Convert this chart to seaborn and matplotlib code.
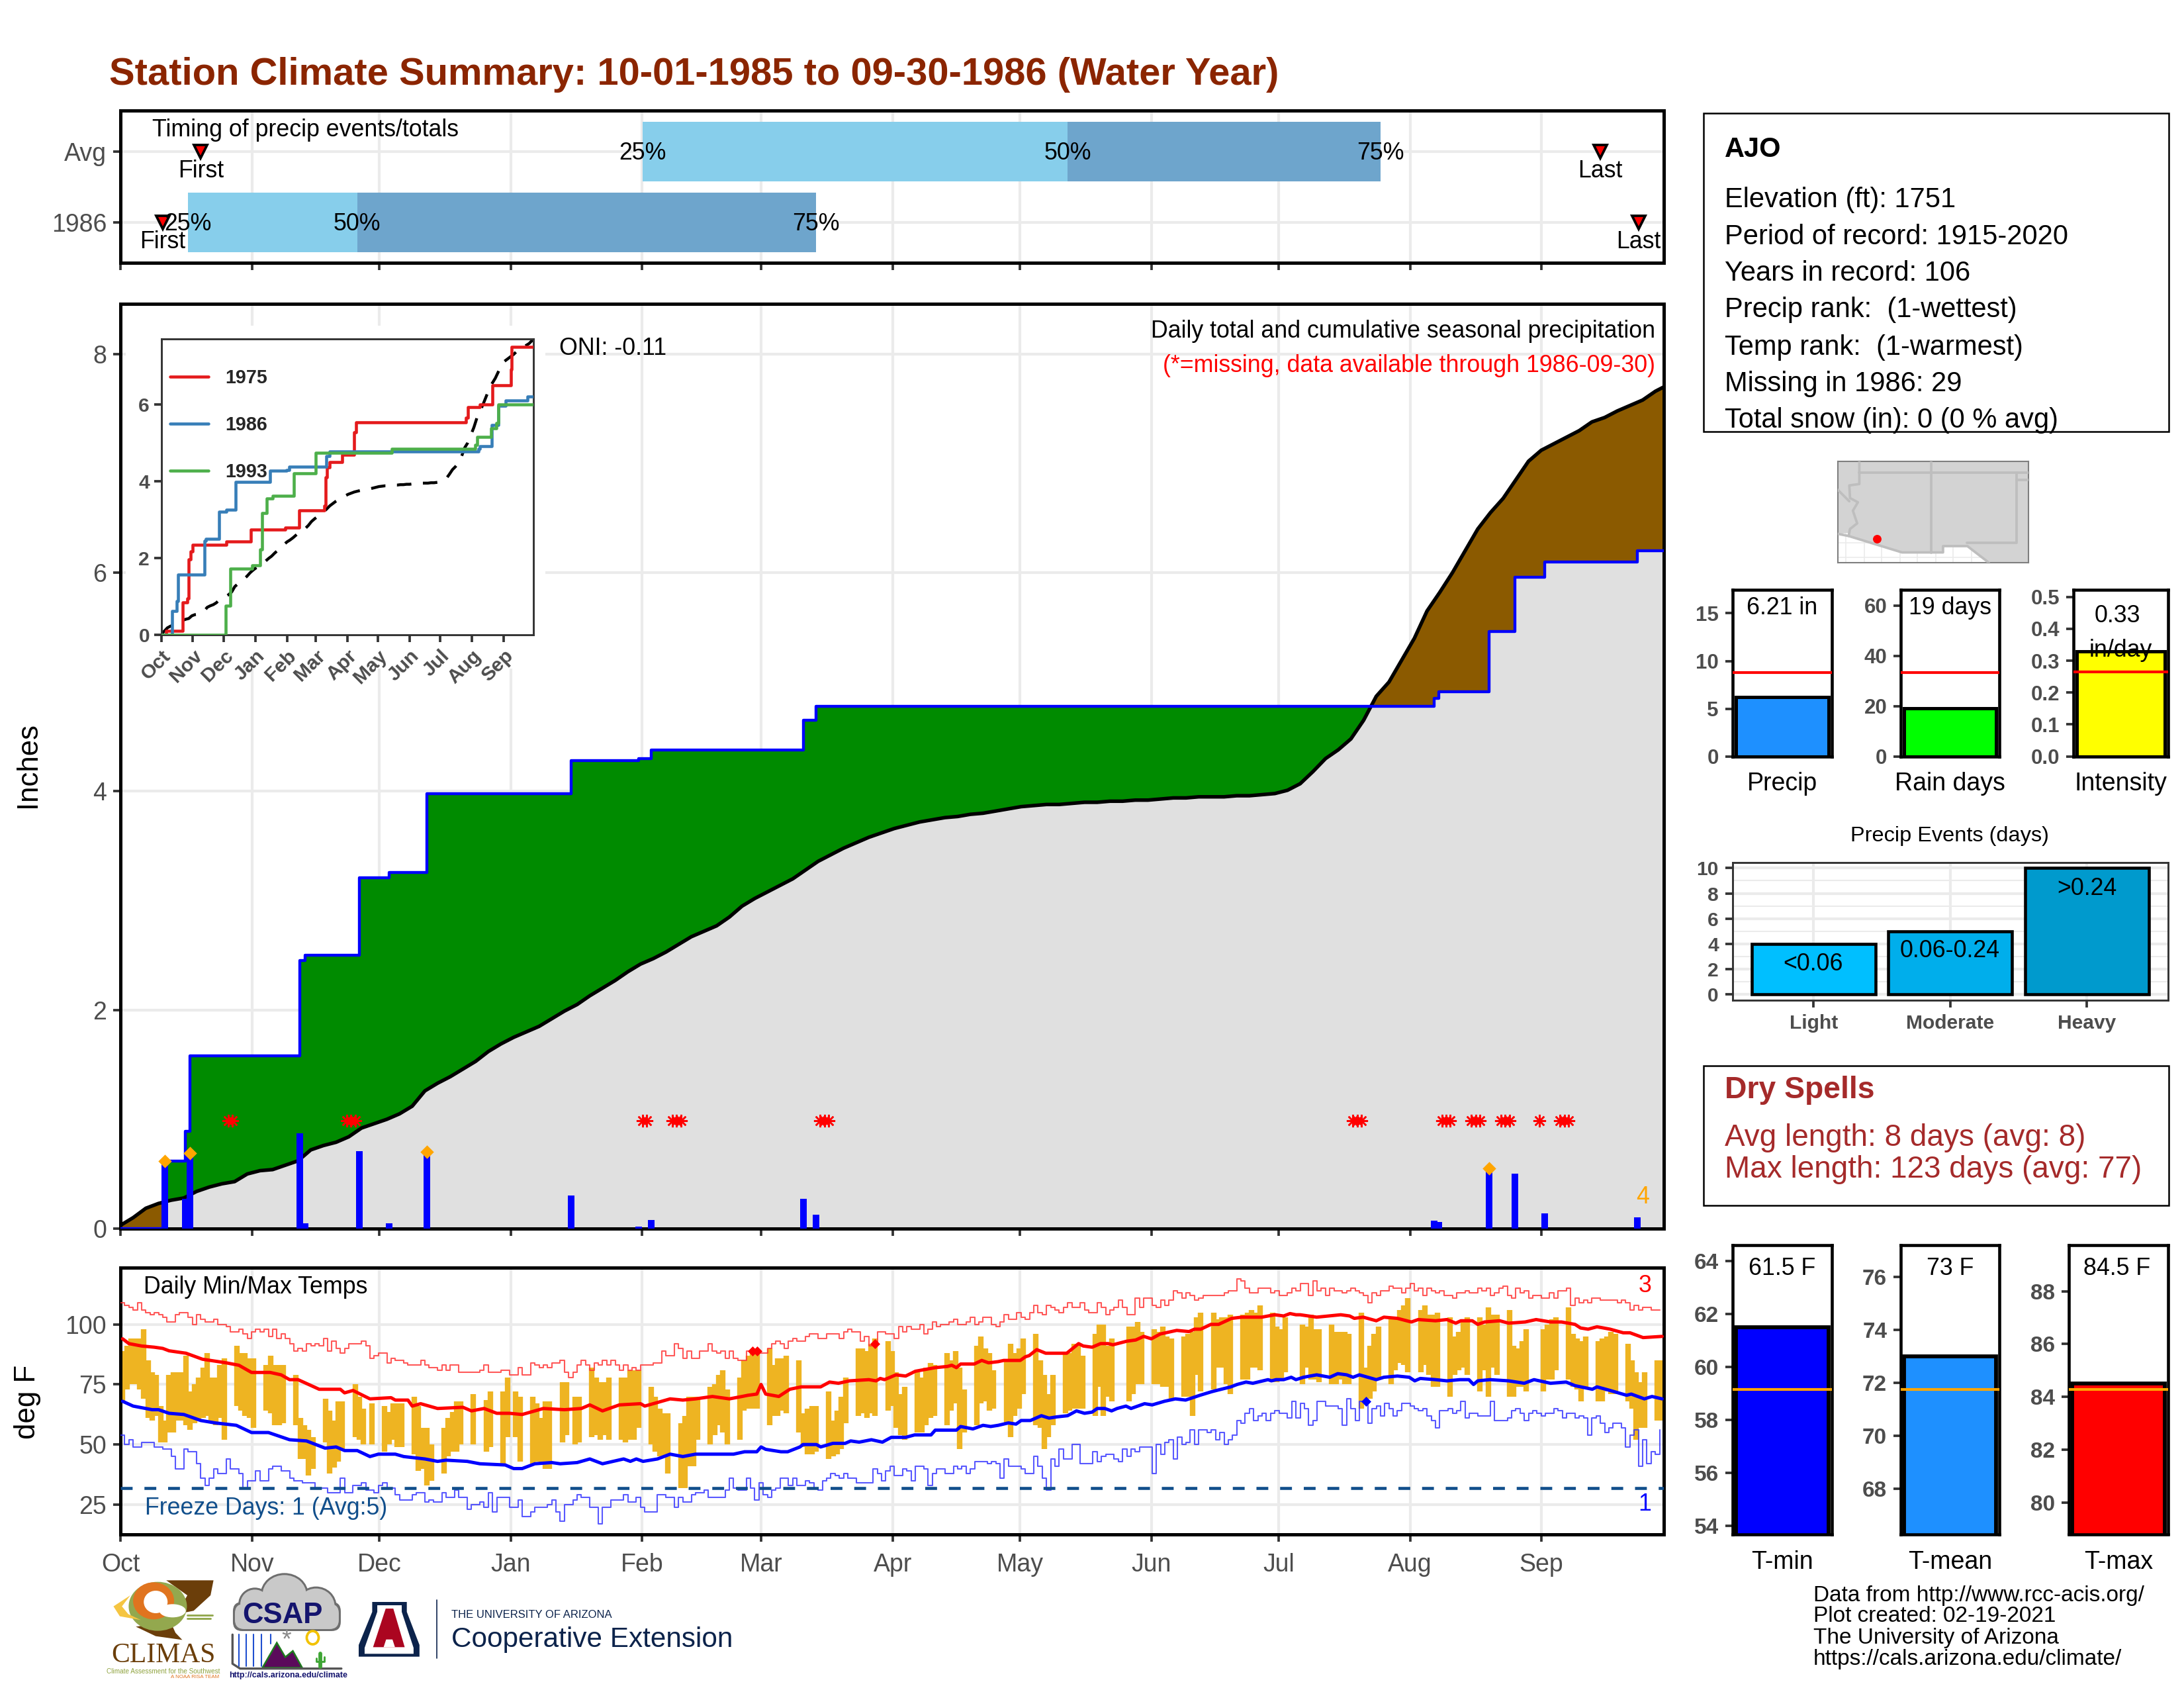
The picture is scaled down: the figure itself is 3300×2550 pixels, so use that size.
import numpy as np
import seaborn as sns
import matplotlib.pyplot as plt
from matplotlib.patches import Ellipse, FancyBboxPatch, Polygon, Rectangle

n = float("nan")

# Eixos e rótulos
month_names = ["Oct", "Nov", "Dec", "Jan", "Feb", "Mar", "Apr", "May", "Jun", "Jul", "Aug", "Sep"]
month_pos = [0, 31.1, 61.2, 92.3, 123.4, 151.5, 182.6, 212.7, 243.8, 273.9, 305, 336]
inset_ticks = [0, 31, 61, 92, 123, 151, 182, 212, 243, 273, 304, 335]

# Precipitação diária 1986
precip_days = [10.5, 15.4, 16.4, 42.4, 43.6, 56.5, 63.5, 72.5, 106.6, 122.5, 125.5, 161.6,
               164.5, 310.7, 311.8, 323.7, 329.8, 336.8, 358.7]
precip_amt = [0.62, 0.27, 0.69, 0.87, 0.05, 0.71, 0.05, 0.72, 0.30, 0.02, 0.08, 0.27,
              0.13, 0.07, 0.06, 0.55, 0.50, 0.14, 0.10]
top_days = [10.5, 16.4, 72.5, 323.7]
top_amt = [0.62, 0.69, 0.70, 0.55]
missing_days = [25, 26, 53, 54, 55, 123, 124, 130, 131, 132, 165, 166, 167, 291, 292, 293, 312, 313, 314,
                319, 320, 321, 326, 327, 328, 335, 340, 341, 342]

# Acumulado médio, um valor a cada 3 dias (último em 30 set)
avg_cum = [0.03, 0.10, 0.186, 0.23, 0.26, 0.28, 0.34, 0.38, 0.41, 0.43,
           0.50, 0.53, 0.54, 0.58, 0.62, 0.72, 0.76, 0.79, 0.84, 0.92,
           0.96, 1.00, 1.05, 1.12, 1.26, 1.33, 1.39, 1.46, 1.53, 1.62,
           1.69, 1.75, 1.80, 1.85, 1.92, 1.99, 2.05, 2.13, 2.20, 2.27,
           2.35, 2.42, 2.47, 2.53, 2.60, 2.67, 2.72, 2.77, 2.85, 2.95,
           3.02, 3.08, 3.14, 3.20, 3.28, 3.36, 3.42, 3.48, 3.53, 3.58,
           3.62, 3.66, 3.69, 3.72, 3.74, 3.76, 3.77, 3.79, 3.80, 3.82,
           3.84, 3.86, 3.87, 3.88, 3.88, 3.89, 3.90, 3.90, 3.91, 3.91,
           3.92, 3.92, 3.93, 3.94, 3.94, 3.95, 3.95, 3.95, 3.96, 3.96,
           3.97, 3.98, 4.01, 4.07, 4.18, 4.30, 4.38, 4.48, 4.65, 4.87,
           5.00, 5.20, 5.40, 5.65, 5.82, 6.00, 6.20, 6.40, 6.55, 6.68,
           6.85, 7.02, 7.12, 7.18, 7.24, 7.30, 7.38, 7.42, 7.48, 7.53,
           7.58, 7.66, 7.70]

# Inset: outros anos
days_1975 = [0, 4.5, 21, 25.6, 27, 28.5, 31, 64, 88, 121.6, 135, 159.5, 161, 162.5, 165, 177, 188.5, 191,
             298, 300, 312, 324, 342, 343, 364]
vals_1975 = [0, 0.11, 0.85, 0.95, 1.96, 2.17, 2.35, 2.43, 2.75, 2.79, 3.24, 3.37, 4.10, 4.36, 4.49, 4.69,
             5.28, 5.53, 5.65, 5.92, 5.99, 6.50, 6.90, 7.49, 7.49]
days_1993 = [0, 63, 67.7, 89, 97, 98.5, 103, 109, 130, 151, 225.6, 307, 309, 323, 328, 330, 364]
vals_1993 = [0, 0.77, 1.73, 1.81, 2.22, 3.18, 3.55, 3.62, 4.21, 4.74, 4.85, 4.95, 5.16, 5.38, 5.51, 5.99, 5.99]

# Linha do tempo (dias desde 1 out)
timing_rows = [1, 0]
timing_labels = ["Avg", "1986"]
first_day = [19, 10]
q25_day = [123.5, 16]
q50_day = [224, 56]
q75_day = [298, 164.5]
last_day = [350, 359]

# Temperaturas diárias (10 por linha)
tmax_daily = [89, 91, 94, 94, 94, 98, 85, 80, 79, 66,
              60, 79, 80, 80, 80, 87, 72, 75, 78, 82,
              88, 78, 78, 83, 86, n, n, 91, 88, 88,
              86, 86, n, n, 83, 87, 83, 83, 83, n,
              n, 79, 61, 58, 56, 53, n, n, 69, 64,
              60, 68, 68, n, n, 75, 70, 65, n, 67,
              n, n, 66, 63.5, 67, 67, 67, n, n, 70,
              66, 57, 57, 50, n, n, 57, 61, 63.5, 68,
              68, n, n, 71, n, n, 68.5, 72, n, n,
              72, 78, n, 72, 70, n, n, 70, 67, 61,
              68, 68, n, n, 76, 76, n, 70, 70, n,
              n, 82, 78, 76, 76, 78, n, n, 78, 78,
              81, 81, 81, n, n, 74, 70, 65, 63, 63,
              n, n, 59, 62, 70, 70, 70, n, n, 74,
              75, 79, 81, 73, n, n, 78, 85, 87, 88,
              88, n, n, 90, 83, 86, 86, 87, n, n,
              85, 63, 65, 66, 66, n, n, 72, 60, 64,
              70, 78, n, n, 90, 90, 89, 92, 94, n,
              n, 93, 89, 80, 71, 74, n, n, 80, 78,
              82, 84, 83, n, n, 88, 85, 89, 82, 73,
              n, n, 91, 95, 90, 88, 81, n, n, 85,
              92, 88, 90, 94, n, n, 96, 85, 79, 71,
              79, n, n, 88, 88, 92, 92, 87, n, n,
              96, 100, 100, 91, 94, n, n, n, 99, 99,
              101, 97, n, n, 98, 97, 99, 95, 94, n,
              n, 95, 96, 97, 103, 105, n, n, 105, 102,
              103, 103, 104, n, n, 104, 105, 106, 105, 108,
              n, n, 105, 99, 98, 103, n, n, n, 100,
              99, 104, 98, 98, n, n, 100, 97, 97, 97,
              96, n, n, 105, 82, 91, 96, 99, n, n,
              102, 103, 106, 108, 111, n, n, 106, 108, 104,
              104, 105, n, n, 103, 95, 97, 102, 103, n,
              n, 103, 100, 107, 104, 104, n, n, 106, 91,
              90, 93, 98, n, n, n, 98, 100, 102, 103,
              n, n, 107, 96, 94, 93, 95, n, n, 93,
              94, 95, 97, 96, n, n, 92, 85, 80, 76,
              80, n, n, 85, 85]
tmin_daily = [68, 73, 75, 75, 73, 69, 61, 60, 62, 51,
              51, 55, 55, 60, 60, 58, 56, 59, 60, 61,
              62, 59, 58, 61, 52, n, n, 66, 64, 62,
              61, 57, n, n, 64, 63, 58, 58, 59, n,
              n, 58, 44, 44, 37, 40, n, n, 51, 38,
              40.5, 43, 48, n, n, 53, 52, 50, n, 50,
              n, n, 47, 50, 52, 49, 49, n, n, 46,
              39, 40, 33, 35, n, n, 38, 45, 47, 47,
              50, n, n, 50, n, n, 47, 49, n, n,
              42, 53, n, 53, 43, n, n, 42, 43, 42,
              40, 40, n, n, 51, 54, n, 50, 51, n,
              n, 53, 54, 52, 54, 52, n, n, 52, 51,
              52, 52, 57, n, n, 50, 47, 45, 45, 38,
              n, n, 32, 32, 41, 41, 52, n, n, 50,
              54, 58, 55, 50, n, n, 52, 64, 65, 65,
              65, n, n, 58, 62, 62, 64, 63, n, n,
              55, 49, 46, 46, 47, n, n, 44, 45, 46,
              48, 59, n, n, 62, 63, 61, 63, 62, n,
              n, 64, 66, 57, 54, 52, n, n, 55, 55,
              58, 61, 62, n, n, 58, 64, 67, 48, 55,
              n, n, 58, 67, 68, 64, 65, n, n, 59,
              53, 62, 65, 71, n, n, 58, 57, 48, 53,
              58, n, n, 63, 64, 65, 65, 65, n, n,
              62, 74, 62, 70, 68, n, n, n, 68, 71,
              75, 75, n, n, 75, 75, 74, 74, 69, n,
              n, 70, 70, 62, 79, 72, n, n, 73, 82,
              82, 75, 71, n, n, 77, 77, 82, 82, 81,
              n, n, 76, 76, 77, 80, n, n, n, 75,
              82, 77, 77, 76, n, n, 75, 75, 77, 75,
              75, n, n, 65, 69, 69, 72, 77, n, n,
              75, 81, 84, 83, 80, n, n, 80, 83, 79,
              74, 74, n, n, 70, 79, 81, 82, 79, n,
              n, 72, 81, 70, 82, 79, n, n, 70, 70,
              74, 74, 72, n, n, n, 72, 77, 77, 81,
              n, n, 77, 74, 73, 68, 74, n, n, 68,
              68, 72, 71, 71, n, n, 68, 65, 52, 57,
              57, n, n, 60, 60]
record_high = [109, 108, 107, 106, 109, 106, 105, 104, 105, 104,
               103, 101, 101, 104, 105, 105, 103, 100, 104, 102,
               101, 101, 102, 100, 100, 99, 97, 97, 98, 96,
               94, 97, 98, 97, 98, 95, 98, 94, 96, 94,
               92, 89, 90, 89, 92, 91, 92, 91, 94, 89,
               93, 90, 88, 90, 92, 92, 92, 93, 91, 86,
               87, 88, 88, 84, 86, 85, 85, 84, 83, 83,
               83, 85, 83, 82, 82, 81, 83, 81, 83, 83,
               80, 80, 80, 80, 80, 81, 83, 80, 80, 80,
               81, 81, 79, 79, 82, 79, 79, 84, 83, 82,
               83, 82, 84, 84, 85, 80, 78, 80, 83, 85,
               83, 81, 84, 83, 85, 83, 85, 83, 81, 83,
               81, 82, 81, 83, 83, 83, 84, 84, 89, 87,
               87, 92, 90, 86, 89, 86, 86, 89, 89, 92,
               89, 88, 89, 86, 89, 86, 85, 85, 89, 89,
               89, 88, 88, 90, 92, 93, 92, 90, 93, 94,
               93, 93, 95, 96, 96, 94, 94, 96, 96, 96,
               94, 97, 98, 97, 97, 93, 95, 91, 92, 97,
               97, 96, 96, 94, 99, 97, 99, 98, 98, 100,
               96, 98, 101, 99, 100, 100, 101, 102, 100, 100,
               101, 103, 100, 101, 103, 103, 100, 99, 101, 104,
               102, 102, 105, 103, 102, 105, 108, 105, 104, 108,
               107, 106, 105, 107, 109, 107, 107, 109, 106, 105,
               105, 109, 107, 104, 106, 107, 110, 107, 104, 104,
               111, 107, 111, 111, 108, 107, 110, 108, 110, 114,
               113, 111, 113, 112, 110, 111, 112, 112, 112, 112,
               112, 113, 114, 114, 119, 118, 115, 113, 113, 115,
               115, 115, 113, 114, 112, 112, 113, 115, 114, 117,
               117, 112, 118, 114, 115, 112, 115, 114, 114, 113,
               114, 115, 114, 113, 112, 109, 113, 112, 114, 114,
               116, 115, 115, 113, 115, 117, 114, 115, 112, 115,
               114, 113, 114, 112, 112, 111, 113, 113, 114, 113,
               113, 115, 114, 115, 112, 113, 115, 116, 112, 111,
               115, 113, 114, 111, 112, 112, 111, 111, 113, 111,
               114, 114, 115, 108, 111, 109, 110, 109, 111, 111,
               110, 110, 110, 110, 109, 110, 109, 106, 108, 106,
               107, 107, 106, 106, 106]
record_low = [54, 50, 52, 49, 49, 51, 51, 51, 49, 49,
              48, 48, 45, 40, 40, 48, 47, 47, 42, 36,
              33, 36, 40, 38, 38, 44, 40, 40, 38, 32,
              35, 35, 39, 35, 35, 40, 41, 41, 39, 39,
              36, 35, 35, 34, 34, 34, 32, 32, 32, 30,
              30, 30, 36, 30, 30, 33, 33, 34, 31, 31,
              30, 33, 34, 32, 32, 29, 27, 27, 27, 29,
              30, 30, 26, 27, 26, 26, 30, 28, 28, 31,
              28, 28, 23, 25, 25, 26, 24, 30, 22, 28,
              28, 28, 24, 24, 27, 20, 20, 22, 24, 24,
              24, 25, 27, 22, 18, 25, 25, 27, 29, 28,
              28, 24, 24, 17, 24, 24, 27, 27, 27, 29,
              26, 26, 28, 24, 22, 22, 22, 29, 29, 28,
              28, 24, 28, 26, 26, 29, 30, 30, 31, 28,
              28, 28, 28, 31, 36, 32, 31, 31, 36, 32,
              27, 34, 29, 28, 31, 32, 36, 36, 33, 36,
              33, 33, 35, 34, 32, 31, 35, 36, 38, 37,
              36, 38, 36, 36, 34, 34, 34, 34, 40, 38,
              35, 39, 41, 37, 37, 40, 39, 35, 41, 41,
              40, 33, 38, 40, 40, 38, 38, 41, 40, 41,
              38, 40, 43, 43, 43, 42, 43, 42, 36, 44,
              41, 41, 41, 40, 38, 38, 45, 41, 36, 31,
              44, 41, 48, 44, 44, 50, 50, 42, 42, 42,
              47, 43, 45, 46, 46, 44, 43, 48, 45, 48,
              47, 49, 49, 49, 38, 50, 46, 51, 52, 44,
              53, 50, 51, 56, 50, 56, 56, 55, 56, 52,
              55, 50, 52, 54, 60, 59, 63, 65, 60, 62,
              63, 60, 63, 64, 63, 63, 61, 68, 61, 67,
              65, 58, 60, 68, 68, 66, 66, 66, 65, 58,
              69, 65, 60, 68, 68, 59, 65, 66, 62, 67,
              65, 62, 64, 67, 67, 66, 65, 64, 65, 62,
              60, 57, 64, 64, 65, 63, 64, 68, 61, 63,
              63, 62, 62, 62, 68, 60, 60, 60, 61, 64,
              65, 63, 60, 63, 64, 63, 62, 63, 63, 65,
              64, 61, 63, 63, 61, 62, 61, 54, 61, 62,
              59, 55, 57, 59, 59, 57, 49, 54, 56, 41,
              52, 42, 47, 46, 56]

# Médias diárias (leitura ponto a ponto)
avgmax_days = [0.5, 2, 5, 8, 10, 11.5, 15.5, 19.4, 25, 28, 31, 32.4, 35.4, 38, 40, 42, 47, 52, 53, 55, 59, 64,
               65, 68, 69, 71, 75, 81, 83, 86, 89, 92, 95, 98, 100, 105, 109, 111, 114, 118, 123, 124, 127, 130,
               133, 136, 140, 144, 147, 148.4, 150.5, 151.5, 152.6, 155.7, 158.3, 161, 165.6, 167.7, 169.8,
               172.4, 177, 178.7, 179.7, 180.7, 183.4, 185.7, 188, 192.7, 195.6, 196.6, 197.7, 198.7, 201.9,
               203.7, 205.3, 207.6, 208.9, 212.8, 214, 214.9, 216.7, 218.8, 223.8, 226.6, 227.7, 229.8, 231.8,
               233.6, 234.7, 238, 240.1, 242, 243.8, 245.9, 249.8, 252.7, 254, 255.5, 257.9, 259.7, 262.8,
               265.2, 269.9, 273, 275.1, 276.6, 278, 279, 282.9, 288.6, 290.7, 291.8, 293.9, 297, 298.8, 302,
               305.3, 306.9, 311, 313.7, 315.8, 317, 319.7, 321, 322.6, 326.2, 328.3, 332.2, 334.8, 338.2,
               340.8, 344, 345.3, 347.1, 349.2, 352.3, 355.4, 357, 360.1, 364.6]
avgmax_vals = [94, 92, 91, 90.5, 90, 89, 88, 85.5, 84, 83, 80, 80, 80, 79, 77, 77, 73, 73, 71.5, 72.5, 69, 69.5,
               68.5, 68.5, 66, 67, 65, 65.5, 64, 65, 63, 63, 62.5, 64, 65, 64.5, 65, 66.5, 64, 66.5, 67, 66, 67.5,
               69, 68.5, 69, 70, 69, 70, 70.5, 71, 75, 71, 70, 73, 74, 74, 76, 75.5,
               76.5, 77, 76.5, 77.5, 77, 79, 78.5, 80.5, 82, 82.5, 83, 82, 83.5, 83.5,
               85, 84, 84.5, 85, 85, 86.5, 87, 89.5, 88, 88, 92, 91, 90.5, 92,
               92, 91.5, 93, 93.5, 95, 94, 96, 97.5, 97, 98, 98, 100, 100, 102.5,
               103, 103, 104, 103.5, 104.5, 104, 104, 103, 104, 103.5, 102.5, 103, 101.5, 103, 102.5,
               101, 102, 101.5, 102, 100.5, 101.5, 101.5, 100, 101, 101.5, 100.5, 101, 102, 101,
               101, 100, 98.5, 98, 99, 98, 96.5, 96.5, 94.5, 95]
avgmin_days = [0.5, 3, 7.5, 9, 11.5, 15, 19, 22.4, 27.4, 31, 35, 40, 44, 48.4, 51, 53, 56, 59, 61, 65, 67, 72, 75,
               77, 82, 85, 91, 93, 95, 98, 102, 104, 108, 111, 114, 119, 120.6, 122, 123.6, 127, 130, 133, 136,
               141, 145, 147.6, 150.5, 151.5, 152.6, 156.2, 157.8, 160.7, 161.4, 164.6, 165.6, 168.5, 171.4,
               172.7, 174.7, 177.6, 180.2, 182.3, 185.7, 187.8, 191.7, 192.7, 197.7, 198.7, 201.6, 204, 205.8,
               207.6, 210, 211.8, 213, 215.2, 217.8, 219.6, 221.4, 224, 226.1, 228, 229.8, 231, 232.8, 234.4,
               235.7, 237.8, 239, 242.2, 244, 246.9, 249.5, 251.9, 255.3, 258.1, 259.2, 262.6, 264.1, 266.2,
               267.8, 271.4, 272.2, 273.3, 275.1, 276.9, 278, 279.8, 282.9, 286, 287.9, 290, 291.5, 293, 297,
               298.8, 302, 304.8, 306.1, 307.4, 311, 313.7, 316.8, 318.9, 320, 321, 323.9, 328.3, 332, 334.3,
               338.2, 341.9, 344, 348.1, 349.2, 352.3, 356.2, 357.3, 360.4, 362.2, 364.6]
avgmin_vals = [68, 66, 64.5, 64.5, 63, 62.5, 60, 59, 58, 55, 55, 52, 51.5, 48.5, 49, 47.5, 47.5, 45, 46, 46, 45, 44, 43,
               43.5, 43, 42, 41.5, 40, 40, 42, 42.5, 42, 42.5, 44, 42, 44, 43, 44, 43, 44, 46, 45, 46,
               46, 46, 47, 47, 49, 48, 47, 47, 49, 50, 50, 49, 50.5, 50.5,
               51.5, 51, 52, 51, 53, 53, 54, 54, 56, 56, 57.5, 56.5, 58, 57.5,
               58, 59, 58.5, 60, 60, 62, 61, 61.5, 62, 64, 63, 63.5, 65, 65, 64,
               65, 66, 65, 67, 66.5, 68, 69, 68.5, 70.5, 72, 72.5, 74, 75, 76,
               75.5, 77, 76.5, 77, 77, 78, 77, 78, 79, 78, 79.5, 79, 78, 79, 77,
               78, 78.5, 78, 76.5, 77.5, 77, 76.5, 77, 77, 75, 76.5, 77, 76.5, 75.5, 77,
               75.5, 76, 74.5, 73, 74, 72.5, 70.5, 71, 69, 70, 69]
high_marks_days = [149.5, 150.5, 178.5]
high_marks_vals = [89, 89, 92]
low_marks_days = [294.5]
low_marks_vals = [68]
freeze_line = 32

# Painéis de barras
bar_panels = ["Precip", "Rain days", "Intensity"]
bar_values = [6.21, 19, 0.33]
bar_avgs = [8.8, 33.4, 0.264]
bar_colors = ["#1E90FF", "#00FF00", "#FFFF00"]
bar_tops = [17.46, 66.2, 0.522]
bar_ticks = [[0, 5, 10, 15], [0, 20, 40, 60], [0.0, 0.1, 0.2, 0.3, 0.4, 0.5]]
event_names = ["Light", "Moderate", "Heavy"]
event_counts = [4, 5, 10]
event_colors = ["#00BFFF", "#00AEEB", "#009ACD"]
temp_panels = ["T-min", "T-mean", "T-max"]
temp_values = [61.5, 73, 84.5]
temp_avgs = [59.16, 71.74, 84.28]
temp_colors = ["#0000FF", "#1E90FF", "#FF0000"]
temp_limits = [(53.7, 64.6), (66.28, 77.2), (78.82, 89.74)]
temp_ticks = [[54, 56, 58, 60, 62, 64], [68, 70, 72, 74, 76], [80, 82, 84, 86, 88]]

# Contornos do mapa (lon/lat)
land_lon = [-115.55, -102.23, -102.23, -105, -106.5, -108.2, -108.2, -111.07, -114.8, -114.7, -115.55]
land_lat = [37.81, 37.81, 30.6, 30.6, 31.78, 31.78, 31.33, 31.33, 32.5, 32.72, 32.65]
az_west_lon = [-114.05, -114.05, -114.75, -114.7, -114.15, -114.5, -114.2, -114.7, -114.8]
az_west_lat = [37.81, 36.2, 36.1, 35.2, 34.9, 34.3, 33.4, 33.0, 32.5]
border_lon = [-115.55, -114.8, -111.07, -108.2, -108.2, -106.5, -105]
border_lat = [32.65, 32.5, 31.33, 31.33, 31.78, 31.78, 30.6]
station_lon = [-112.82]
station_lat = [32.32]

W, H = 3300, 2550
GRID = "#EBEBEB"
TICK_TXT = "#4D4D4D"
HELV = ["Liberation Sans", "DejaVu Sans"]

sns.set_theme(style="ticks")
plt.rcParams["font.family"] = HELV

fig = plt.figure(figsize=(11, 8.5), dpi=300)


def panel(l, t, r, b):
    return fig.add_axes([l / W, 1 - b / H, (r - l) / W, (b - t) / H])


def estilo(ax, lw=1.2, size=9, bold=False, grid=True, pad=2.3):
    for s in ax.spines.values():
        s.set_linewidth(lw)
        s.set_color("black")
    ax.tick_params(length=2.7, width=0.9, color="#333333", labelcolor=TICK_TXT, labelsize=size, pad=pad)
    if bold:
        for lab in ax.get_xticklabels() + ax.get_yticklabels():
            lab.set_fontweight("bold")
    ax.set_axisbelow(True)
    if grid:
        ax.grid(True, color=GRID, linewidth=1)


def linha(ax, x, y, cor, lw, steps=False, **kw):
    if steps:
        kw["drawstyle"] = "steps-post"
    return sns.lineplot(x=np.asarray(x, dtype=float), y=np.asarray(y, dtype=float), ax=ax, color=cor,
                        linewidth=lw, estimator=None, sort=False, errorbar=None, **kw)


# Painel de tempo dos eventos
ax_time = panel(182, 167, 2514, 397)
ax_time.barh(timing_rows, np.subtract(q50_day, q25_day), left=q25_day, height=0.84, color="#87CEEB",
             linewidth=0, zorder=2)
ax_time.barh(timing_rows, np.subtract(q75_day, q50_day), left=q50_day, height=0.84, color="#6EA5CC",
             linewidth=0, zorder=2)
ax_time.set_xlim(0, 365)
ax_time.set_ylim(-0.57, 1.58)
ax_time.set_xticks(month_pos)
ax_time.set_xticklabels([])
ax_time.set_yticks(timing_rows)
ax_time.set_yticklabels(timing_labels)
estilo(ax_time)
ax_time.plot(first_day, timing_rows, ls="", marker="v", ms=5, mfc="red", mec="black", mew=0.9, zorder=4)
ax_time.plot(last_day, timing_rows, ls="", marker="v", ms=5, mfc="red", mec="black", mew=0.9, zorder=4)
for row, f, l, q1, q2, q3 in zip(timing_rows, first_day, last_day, q25_day, q50_day, q75_day):
    ax_time.text(f, row - 0.28, "First", ha="center", va="center", fontsize=8.6, color="black", zorder=5)
    ax_time.text(l, row - 0.28, "Last", ha="center", va="center", fontsize=8.6, color="black", zorder=5)
    for q, lab in zip((q1, q2, q3), ("25%", "50%", "75%")):
        ax_time.text(q, row - 0.02, lab, ha="center", va="center", fontsize=8.6, color="black", zorder=5)

# Painel principal
ax_main = panel(182, 459, 2514, 1856)
cum_1986 = np.cumsum(precip_amt)
avg_x = np.r_[np.arange(len(avg_cum) - 1) * 3, 365]
blue_x = np.r_[0, precip_days, 365]
blue_y = np.r_[0, cum_1986, cum_1986[-1]]
# camadas: marrom sob a média, verde sob 1986, cinza sob a média recortado por 1986
ax_main.fill_between(avg_x, 0, avg_cum, color="#8B5A00", linewidth=0, zorder=1)
verde = ax_main.fill_between(blue_x, 0, blue_y, step="post", color="#008B00", linewidth=0, zorder=1.1)
cinza = ax_main.fill_between(avg_x, 0, avg_cum, color="#E0E0E0", linewidth=0, zorder=1.2)
cinza.set_clip_path(verde.get_paths()[0], transform=ax_main.transData)
ax_main.add_patch(Rectangle((190 / W, 1 - 1010 / H), 634 / W, 518 / H, transform=fig.transFigure,
                            facecolor="white", edgecolor="none", zorder=0.8))
linha(ax_main, avg_x, avg_cum, "black", 1.3, zorder=3)
linha(ax_main, blue_x, blue_y, "#0000FF", 1.05, steps=True, zorder=3)
ax_main.vlines(precip_days, 0, precip_amt, color="#0000FF", linewidth=2.4, capstyle="butt", zorder=4)
ax_main.plot(np.add(missing_days, 0.5), np.full(len(missing_days), 0.99), ls="", marker=(8, 2, 0), ms=4.6,
             mew=0.6, color="red", zorder=4)
sns.scatterplot(x=top_days, y=top_amt, ax=ax_main, marker="D", s=12, color="#FFA500", linewidth=0, zorder=5)
ax_main.set_xlim(0, 365)
ax_main.set_ylim(0, 8.46)
ax_main.set_xticks(month_pos)
ax_main.set_xticklabels([])
ax_main.set_yticks([0, 2, 4, 6, 8])
estilo(ax_main)
ax_main.set_xlabel("")
ax_main.set_ylabel("")

# Inset
ax_in = panel(243.6, 512, 805.6, 959.3)
linha(ax_in, avg_x, avg_cum, "black", 1.05, dashes=False, zorder=2).lines[-1].set_dashes((5, 4))
linha(ax_in, days_1975, vals_1975, "#E41A1C", 1.1, steps=True, label="1975", zorder=3)
linha(ax_in, np.r_[0, precip_days, 364], np.r_[0, cum_1986, cum_1986[-1]], "#377EB8", 1.1, steps=True,
      label="1986", zorder=3)
linha(ax_in, days_1993, vals_1993, "#4DAF4A", 1.1, steps=True, label="1993", zorder=3)
ax_in.set_xlim(0, 364)
ax_in.set_ylim(0, 7.7)
ax_in.set_xticks(inset_ticks)
ax_in.set_xticklabels(month_names, rotation=45, ha="right", rotation_mode="anchor")
ax_in.set_yticks([0, 2, 4, 6])
estilo(ax_in, lw=0.7, size=7.2, bold=True, grid=False, pad=1.5)
for s in ax_in.spines.values():
    s.set_color("#333333")
ax_in.set_xlabel("")
ax_in.set_ylabel("")
leg = ax_in.legend(loc="upper left", bbox_to_anchor=(0.024, 0.9), frameon=False, fontsize=6.9, handlelength=2.0,
                   labelspacing=1.5, handletextpad=0.9, borderpad=0, borderaxespad=0)
for t in leg.get_texts():
    t.set_fontweight("bold")

# Painel de temperaturas
ax_temp = panel(182, 1915, 2514, 2318)
temp_x = np.arange(len(tmax_daily)) + 0.5
ax_temp.vlines(temp_x, tmin_daily, tmax_daily, color="#EEB422", linewidth=2, capstyle="butt", zorder=2)
day_x = np.arange(len(record_high))
linha(ax_temp, day_x, record_high, "#FF3030", 0.5, steps=True, alpha=0.8, zorder=3)
linha(ax_temp, day_x, record_low, "#3030FF", 0.5, steps=True, alpha=0.8, zorder=3)
linha(ax_temp, avgmax_days, avgmax_vals, "#FF0000", 1.2, zorder=4)
linha(ax_temp, avgmin_days, avgmin_vals, "#0000FF", 1.2, zorder=4)
ax_temp.axhline(freeze_line, color="#104E8B", linewidth=1.1, linestyle=(0, (3.9, 3.9)), zorder=4)
sns.scatterplot(x=high_marks_days, y=high_marks_vals, ax=ax_temp, marker="D", s=6.5, color="red", linewidth=0, zorder=5)
sns.scatterplot(x=low_marks_days, y=low_marks_vals, ax=ax_temp, marker="D", s=6.5, color="#0000FF", linewidth=0, zorder=5)
ax_temp.set_xlim(0, 365)
ax_temp.set_ylim(12.6, 123.6)
ax_temp.set_xticks(month_pos)
ax_temp.set_xticklabels(month_names)
ax_temp.set_yticks([25, 50, 75, 100])
estilo(ax_temp)
ax_temp.tick_params(axis="x", pad=4)

# Mapa
ax_map = panel(2777, 697, 3065, 850)
ax_map.fill(land_lon, land_lat, color="#D3D3D3", linewidth=0, zorder=2)
ax_map.set_xlim(-115.55, -102.23)
ax_map.set_ylim(30.6, 37.81)
ax_map.set_xticks([])
ax_map.set_yticks([])
for lon in (-115, -113.7, -112.5, -111.2, -110, -108.7, -107.5, -106.2):
    ax_map.axvline(lon, color=GRID, linewidth=0.4, zorder=1)
for lat in (31, 32):
    ax_map.axhline(lat, color=GRID, linewidth=0.4, zorder=1)
BORDA = "#BEBEBE"
ax_map.plot(az_west_lon, az_west_lat, color=BORDA, lw=0.9, zorder=3)
ax_map.plot(border_lon, border_lat, color=BORDA, lw=0.9, zorder=3)
ax_map.plot([-114.05, -102.23], [37, 37], color=BORDA, lw=0.9, zorder=3)
ax_map.plot([-109.05, -109.05], [37.81, 31.33], color=BORDA, lw=0.9, zorder=3)
ax_map.plot([-103.05, -103.05, -106.55], [37, 32, 32], color=BORDA, lw=0.9, zorder=3)
ax_map.plot([-103.05, -102.23], [36.5, 36.5], color=BORDA, lw=0.9, zorder=3)
ax_map.plot([-115.55, -114.75], [35.78, 34.97], color=BORDA, lw=0.9, zorder=3)
ax_map.plot(station_lon, station_lat, ls="", marker="o", ms=3.1, color="red", mew=0, zorder=4)
for s in ax_map.spines.values():
    s.set_linewidth(0.5)
    s.set_color("#7F7F7F")

# Barras pequenas
bar_boxes = [(2617.6, 2768), (2872, 3021), (3133, 3276)]
for (l, r), name, val, avg, cor, top, ticks in zip(bar_boxes, bar_panels, bar_values, bar_avgs, bar_colors,
                                                   bar_tops, bar_ticks):
    ax = panel(l, 891, r, 1142.7)
    sns.barplot(x=[name], y=[val], ax=ax, color=cor, edgecolor="black", linewidth=1.2, width=0.93, saturation=1,
                errorbar=None)
    ax.axhline(avg, color="red", linewidth=1, zorder=5)
    ax.set_xlim(-0.5, 0.5)
    ax.set_ylim(0, top)
    ax.set_xticks([])
    ax.set_yticks(ticks)
    if name == "Intensity":
        ax.set_yticklabels(["%.1f" % t for t in ticks])
    estilo(ax, lw=1.1, size=7.5, bold=True, grid=False)
    ax.set_xlabel("")
    ax.set_ylabel("")

# Eventos de precipitação
ax_ev = panel(2617.6, 1303.4, 3276, 1510.7)
sns.barplot(x=event_names, y=event_counts, hue=event_names, palette=event_colors, legend=False, ax=ax_ev,
            edgecolor="black", linewidth=1.1, width=0.906, saturation=1, errorbar=None)
ax_ev.set_xlim(-0.594, 2.594)
ax_ev.set_ylim(-0.45, 10.42)
ax_ev.set_yticks([0, 2, 4, 6, 8, 10])
ax_ev.set_yticks([1, 3, 5, 7, 9], minor=True)
estilo(ax_ev, lw=0.7, size=7.2, bold=True)
ax_ev.grid(True, which="minor", axis="y", color=GRID, linewidth=0.5)
ax_ev.tick_params(which="minor", length=0)
for s in ax_ev.spines.values():
    s.set_color("#333333")
ax_ev.set_xlabel("")
ax_ev.set_ylabel("")

# Barras de temperatura
temp_boxes = [(2617.6, 2768), (2872, 3021), (3125.5, 3276)]
for (l, r), name, val, avg, cor, lim, ticks in zip(temp_boxes, temp_panels, temp_values, temp_avgs, temp_colors,
                                                   temp_limits, temp_ticks):
    ax = panel(l, 1881, r, 2317.5)
    sns.barplot(x=[name], y=[val], ax=ax, color=cor, edgecolor="black", linewidth=1.4, width=0.93, saturation=1,
                errorbar=None)
    ax.axhline(avg, color="#FFA500", linewidth=1, zorder=5)
    ax.set_xlim(-0.5, 0.5)
    ax.set_ylim(*lim)
    ax.set_xticks([])
    ax.set_yticks(ticks)
    estilo(ax, lw=1.1, size=8, bold=True, grid=False)
    ax.set_xlabel("")
    ax.set_ylabel("")

# Camada de textos e logos, em pixels
ov = fig.add_axes([0, 0, 1, 1], zorder=20)
ov.set_xlim(0, W)
ov.set_ylim(H, 0)
ov.axis("off")


def txt(x, y, s, size=8.6, cor="black", ha="left", **kw):
    ov.text(x, y + 3, s, fontsize=size, color=cor, ha=ha, va="center", **kw)


txt(165, 110, "Station Climate Summary: 10-01-1985 to 09-30-1986 (Water Year)", size=13.9, cor="#8B2500", fontweight="bold")
txt(229.5, 193, "Timing of precip events/totals")
txt(845, 523, "ONI: -0.11")
txt(2501, 497, "Daily total and cumulative seasonal precipitation", ha="right")
txt(2501, 549, "(*=missing, data available through 1986-09-30)", cor="red", ha="right")
txt(42, 1153, "Inches", size=10.5, ha="center", rotation=90)
txt(42, 2115, "deg F", size=10.5, ha="center", rotation=90)
txt(2481.6, 1805, "4", cor="#FFA500", ha="center")
txt(217, 1941, "Daily Min/Max Temps")
txt(219, 2275, "Freeze Days: 1 (Avg:5)", cor="#104E8B")
txt(2485.7, 1940, "3", cor="red", ha="center")
txt(2485, 2270, "1", cor="#0000FF", ha="center")

# Caixa da estação
ov.add_patch(Rectangle((2574, 171), 703, 481, fill=False, edgecolor="black", linewidth=0.6))
txt(2606, 223, "AJO", size=10, fontweight="bold")
station_lines = ["Elevation (ft): 1751", "Period of record: 1915-2020", "Years in record: 106",
                 "Precip rank:  (1-wettest)", "Temp rank:  (1-warmest)", "Missing in 1986: 29",
                 "Total snow (in): 0 (0 % avg)"]
station_y = [299, 355, 410, 465, 522, 577, 632]
for y, s in zip(station_y, station_lines):
    txt(2606, y, s, size=10)

# Rótulos das barras
txt(2692.8, 915, "6.21 in", ha="center")
txt(2946.5, 915, "19 days", ha="center")
txt(3199, 928, "0.33", ha="center")
txt(3204, 980, "in/day", ha="center")
for x, s in zip((2692.8, 2946.5, 3204.5), bar_panels):
    txt(x, 1181, s, size=9, ha="center")
txt(2946, 1260, "Precip Events (days)", size=7.8, ha="center")
txt(2740, 1453, "<0.06", ha="center")
txt(2946.5, 1433, "0.06-0.24", ha="center")
txt(3153, 1340, ">0.24", ha="center")

# Dry Spells
ov.add_patch(Rectangle((2574, 1610), 703, 211, fill=False, edgecolor="black", linewidth=0.6))
txt(2606, 1644, "Dry Spells", size=11.1, cor="#A52A2A", fontweight="bold")
txt(2606, 1716, "Avg length: 8 days (avg: 8)", size=11, cor="#A52A2A")
txt(2606, 1764, "Max length: 123 days (avg: 77)", size=11, cor="#A52A2A")

# Barras de temperatura: textos
txt(2692.8, 1913, "61.5 F", ha="center")
txt(2946.5, 1913, "73 F", ha="center")
txt(3199, 1913, "84.5 F", ha="center")
for x, s in zip((2692.8, 2946.5, 3201), temp_panels):
    txt(x, 2356.5, s, size=9, ha="center")

# Rodapé
foot_lines = ["Data from http://www.rcc-acis.org/", "Plot created: 02-19-2021", "The University of Arizona",
              "https://cals.arizona.edu/climate/"]
for y, s in zip((2408, 2439, 2471, 2503.5), foot_lines):
    txt(2740, y, s, size=8)


# Logos
def zp(pts):
    return [(130 + a / 1.568, 2370 + b / 3) for a, b in pts]


def zc(a, b):
    return 130 + a / 1.568, 2370 + b / 3


BROWN = "#6B3E0A"
ov.add_patch(Polygon(zp([(190, 52), (302, 52), (295, 120), (255, 190), (215, 205), (240, 120)]), color=BROWN, lw=0))
ov.add_patch(Polygon(zp([(118, 262), (200, 240), (212, 290), (228, 322), (165, 305)]), color=BROWN, lw=0))
ov.add_patch(Ellipse(zc(170, 170), 88, 74, color="#93A84E", lw=0))
ov.add_patch(Ellipse(zc(160, 145), 62, 56, color="#E0741F", lw=0))
ov.add_patch(Ellipse(zc(165, 150), 36, 34, color="white", lw=0))
ov.add_patch(Ellipse(zc(205, 190), 40, 20, color="white", lw=0))
ov.add_patch(Polygon(zp([(105, 120), (65, 170), (80, 215), (130, 232), (100, 205), (85, 170)]), color="#F5C542", lw=0))
ov.plot(*zip(*zp([(240, 210), (300, 210)])), color="#93A84E", lw=0.7)
ov.plot(*zip(*zp([(240, 225), (295, 225)])), color="#93A84E", lw=0.7)
ov.text(*zc(183, 392), "CLIMAS", fontsize=10, family="Liberation Serif", color=BROWN, ha="center", va="center")
ov.text(*zc(183, 465), "Climate Assessment for the Southwest", fontsize=2.4, color="#8FA33F", ha="center", va="center")
ov.text(*zc(258, 490), "A NOAA RISA TEAM", fontsize=1.9, color="#E0741F", ha="center", va="center")

NAVY = "#14146E"
for cor, g in (("#6E6E6E", 0), ("#C9C9C9", 3)):
    ov.add_patch(FancyBboxPatch((zc(348, 150)[0] + g, zc(348, 150)[1] + g), 163 - 2 * g, 44 - 2 * g,
                                boxstyle="round,pad=0,rounding_size=14", color=cor, lw=0))
    ov.add_patch(Ellipse(zc(470, 115), 72 - 2 * g, 64 - 2 * g, color=cor, lw=0))
    ov.add_patch(Ellipse(zc(400, 160), 50 - 2 * g, 50 - 2 * g, color=cor, lw=0))
    ov.add_patch(Ellipse(zc(545, 170), 62 - 2 * g, 60 - 2 * g, color=cor, lw=0))
ov.text(*zc(465, 212), "CSAP", fontsize=10.5, fontweight="bold", color=NAVY, ha="center", va="center")
for a in (362, 380, 397, 415, 438):
    ov.plot(*zip(*zp([(a, 298), (a, 440 if a < 430 else 340)])), color="#1F4FD0", lw=0.5)
ov.plot(*zip(*zp([(347, 298), (347, 430), (365, 452), (605, 452)])), color="#555555", lw=0.8)
ov.add_patch(Polygon(zp([(418, 448), (452, 335), (472, 400), (490, 372), (512, 448)]), facecolor="#5B0A5B",
                     edgecolor="#1E7A1E", lw=0.6))
ov.plot(*zip(*zp([(555, 385), (555, 445)])), color="#3FA535", lw=1.4)
ov.plot(*zip(*zp([(545, 405), (545, 420), (565, 420), (565, 400)])), color="#3FA535", lw=0.7)
ov.text(*zc(475, 325), "*", fontsize=9, color="#8A8A8A", ha="center", va="center")
ov.add_patch(Ellipse(zc(537, 312), 18, 20, facecolor="none", edgecolor="#F2C200", lw=0.9))
ov.text(*zc(479, 482), "http://cals.arizona.edu/climate", fontsize=3, fontweight="bold", color=NAVY, ha="center", va="center")

UA = "#0C234B"
ov.add_patch(Polygon(zp([(678, 150), (760, 150), (760, 195), (790, 345), (790, 398), (646, 398), (646, 345), (678, 195)]),
                     color=UA, lw=0))
ov.add_patch(Polygon(zp([(690, 165), (748, 165), (748, 195), (776, 358), (776, 385), (660, 385), (660, 358), (690, 195)]),
                     color="white", lw=0))
ov.add_patch(Polygon(zp([(710, 180), (728, 180), (755, 355), (680, 355)]), color="#AB0520", lw=0))
ov.add_patch(Polygon(zp([(705, 355), (732, 355), (726, 320), (711, 320)]), color="white", lw=0))
ov.plot(*zip(*zp([(831, 140), (831, 406)])), color=UA, lw=0.4)
ov.text(682, 2440, "THE UNIVERSITY OF ARIZONA", fontsize=4, color=UA, ha="left", va="center")
ov.text(682, 2477, "Cooperative Extension", fontsize=10.15, color=UA, ha="left", va="center")

fig.savefig("out.png", dpi=300)
